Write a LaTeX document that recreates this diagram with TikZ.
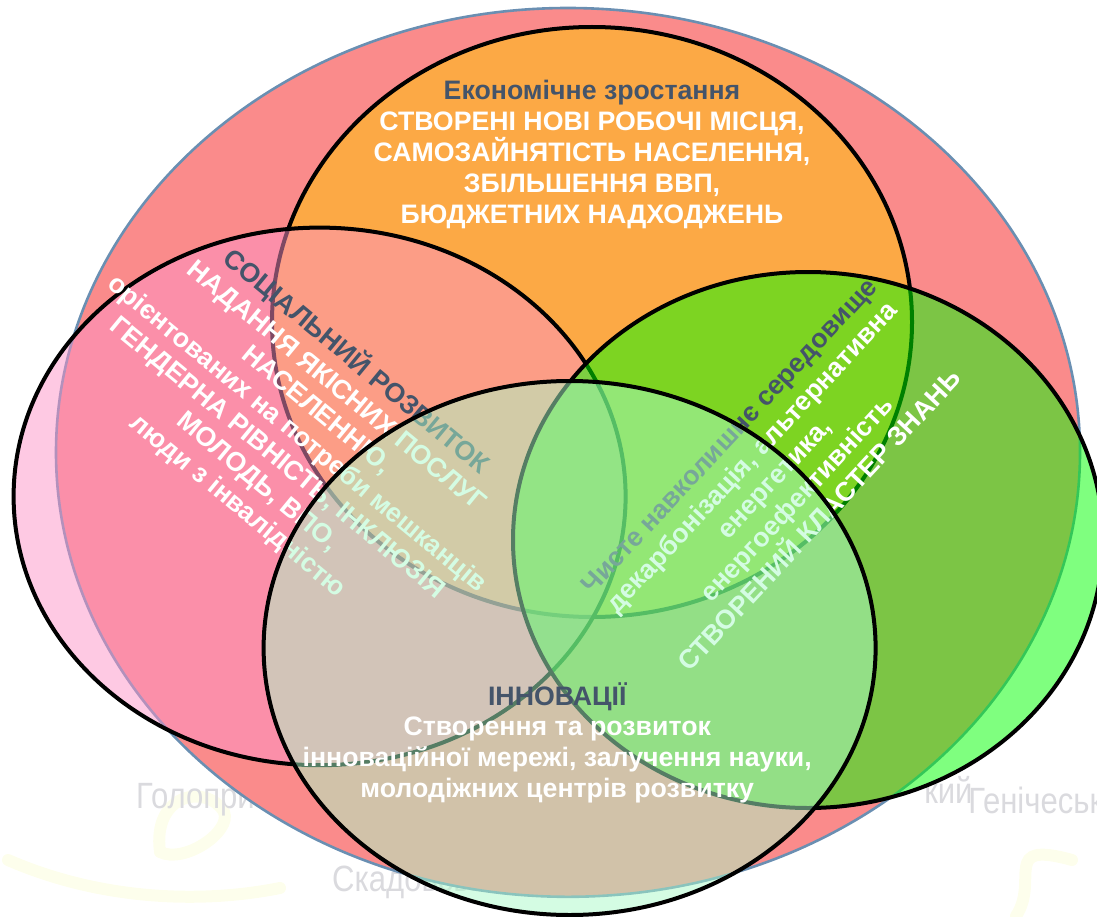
\documentclass[tikz,border=0pt]{standalone}
\usepackage{fontspec}
\setmainfont{Liberation Sans}
\definecolor{bigred}{HTML}{FA8B8B}
\definecolor{bigline}{HTML}{6A8FB2}
\definecolor{econfill}{HTML}{FFC800}
\definecolor{socfill}{HTML}{FD93C7}
\definecolor{innfill}{HTML}{AAFAC8}
\definecolor{headblue}{HTML}{44546A}
\definecolor{mapgrey}{HTML}{DADADE}
\definecolor{mapyellow}{HTML}{FDFEEC}
\tikzset{
    circ/.style={line width=0.1cm, fill opacity=0.5, draw opacity=1},
    blocktext/.style={inner sep=0pt, align=center, text=white, font=\fontsize{19}{22}\selectfont\bfseries},
    maplabel/.style={inner sep=0pt, anchor=west, text=mapgrey, xscale=0.85, font=\fontsize{26}{28}\selectfont},
    mapline/.style={mapyellow, line width=0.3cm, line cap=round}
}
\begin{document}
\begin{tikzpicture}
    \useasboundingbox (0, 0) rectangle (27.425, -22.925);
    \clip (0, 0) rectangle (27.425, -22.925);
    % faded map behind
    \draw[mapline] (4, -21.3) .. controls (3.8, -19.8) and (5.2, -19.6) .. (5.6, -20.3) .. controls (5.8, -20.8) and (4.6, -21.6) .. (4, -21.3);
    \draw[mapline] (0.2, -21.5) .. controls (2.5, -22.5) and (5, -22.6) .. (7, -22.2);
    \draw[mapline] (7, -17.5) .. controls (5.5, -17.8) and (7.5, -19) .. (10.5, -19.5);
    \draw[mapline] (26.8, -21.5) .. controls (25, -21) and (26, -22) .. (25.4, -22.9);
    \node[maplabel] (golopr) at (3.4, -20) {Голоприс};
    \node[maplabel] (skad) at (8.3, -22.05) {Скадовськ};
    \node[maplabel] (kyi) at (23.1, -19.75) {кий};
    \node[maplabel] (genich) at (24.2, -20) {Генічеськ};
    % big ellipse and the circles on it
    \draw[bigline, fill=bigred, line width=0.065cm] (14.2, -11.31) ellipse (12.8 and 11.11);
    \draw[circ, fill=econfill] (14.8, -8.05) ellipse (8 and 7.375);
    \node[blocktext] (econ) at (14.8, -3.86) {{\color{headblue}Економічне зростання}\\
        СТВОРЕНІ НОВІ РОБОЧІ МІСЦЯ,\\ САМОЗАЙНЯТІСТЬ НАСЕЛЕННЯ,\\ ЗБІЛЬШЕННЯ ВВП,\\ БЮДЖЕТНИХ НАДХОДЖЕНЬ};
    \draw[circ, fill=socfill] (7.99, -12.41) ellipse (7.65 and 6.72);
    \node[blocktext, rotate=-39.5] (soc) at (7.45, -10.82) {{\color{headblue}СОЦІАЛЬНИЙ РОЗВИТОК}\\
        НАДАННЯ ЯКІСНИХ ПОСЛУГ\\ НАСЕЛЕННЮ,\\ орієнтованих на потреби мешканців\\ ГЕНДЕРНА РІВНІСТЬ, ІНКЛЮЗІЯ\\ МОЛОДЬ, ВПО,\\ люди з інвалідністю};
    \draw[circ, fill=green] (20.2, -13.5) ellipse (7.375 and 6.7);
    \node[blocktext, rotate=47] (env) at (19.35, -11.95) {{\color{headblue}Чисте навколишнє середовище}\\
        декарбонізація, альтернативна\\ енергетика,\\ енергоефективність\\ СТВОРЕНИЙ КЛАСТЕР ЗНАНЬ};
    \draw[circ, fill=innfill] (14.24, -16.2) ellipse (7.65 and 6.675);
    \node[blocktext] (inn) at (13.93, -18.57) {{\color{headblue}ІННОВАЦІЇ}\\
        Створення та розвиток\\ інноваційної мережі, залучення науки,\\ молодіжних центрів розвитку};
\end{tikzpicture}
\end{document}
